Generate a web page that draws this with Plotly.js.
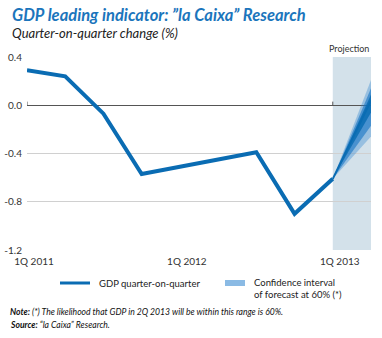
<!DOCTYPE html>
<html><head><meta charset="utf-8">
<script src="https://cdn.plot.ly/plotly-3.0.1.min.js"></script>
<style>html,body{margin:0;padding:0;background:#fff;}#c{width:382px;height:338px;}</style>
</head><body><div id="c"></div>
<script>
// Data
const quarters = ["1Q 2011","2Q 2011","3Q 2011","4Q 2011","1Q 2012","2Q 2012","3Q 2012","4Q 2012","1Q 2013","2Q 2013"];
const gdp = [0.29, 0.24, -0.07, -0.57, -0.51, -0.45, -0.39, -0.90, -0.61];
const fanQuarters = ["1Q 2013","2Q 2013"];
const fanOuterLow = [-0.61, -0.26];
const fanOuterHigh = [-0.61, 0.21];
const fanMidLow = [-0.61, -0.17];
const fanMidHigh = [-0.61, 0.14];
const fanInnerLow = [-0.61, -0.06];
const fanInnerHigh = [-0.61, 0.09];
const fanCenter = [-0.61, 0.04];
const xTickLabels = ["1Q 2011","1Q 2012","1Q 2013"];
const yTicks = [0.4, 0.0, -0.4, -0.8, -1.2];
const yTickLabels = ["0.4","0.0","-0.4","-0.8","-1.2"];

const idx = q => quarters.indexOf(q);
const xs = gdp.map((_, i) => i);
const fx = fanQuarters.map(idx);

const blue = '#0a6cb3';
const traces = [];
function band(lo, hi, color){
  traces.push({x: fx, y: lo, mode:'lines', line:{width:0}, hoverinfo:'skip', showlegend:false});
  traces.push({x: fx, y: hi, mode:'lines', line:{width:0}, fill:'tonexty', fillcolor: color, hoverinfo:'skip', showlegend:false});
}
band(fanOuterLow, fanOuterHigh, 'rgba(40,130,205,0.35)');
band(fanMidLow, fanMidHigh, 'rgba(20,115,195,0.6)');
band(fanInnerLow, fanInnerHigh, 'rgba(10,108,179,0.85)');
traces.push({x: fx, y: fanCenter, mode:'lines', line:{color: blue, width:2}, hoverinfo:'skip', showlegend:false});
traces.push({x: xs, y: gdp, mode:'lines', line:{color: blue, width:4, shape:'linear'}, showlegend:false});

const projStart = idx("1Q 2013");
const projEnd = idx("2Q 2013");

const layout = {
  width: 382, height: 338,
  margin: {l: 27, r: 11, t: 57, b: 88},
  paper_bgcolor: '#fff', plot_bgcolor: '#fff',
  font: {family: 'Lato, "Open Sans", sans-serif', color: '#333', size: 10},
  showlegend: false,
  xaxis: {
    range: [0, projEnd], showgrid: false, zeroline: false, showline: false,
    tickmode: 'array', tickvals: xTickLabels.map(idx), ticktext: xTickLabels,
    ticks: '', ticklabelshift: 7, ticklabelstandoff: 4,
    tickfont: {size: 10, color: '#333'}, fixedrange: true
  },
  yaxis: {
    range: [-1.2, 0.4], tickmode: 'array', tickvals: yTicks, ticktext: yTickLabels,
    showgrid: true, gridcolor: '#d0d0d0', gridwidth: 1,
    zeroline: true, zerolinecolor: '#555', zerolinewidth: 1,
    showline: false, ticks: '', ticklabelstandoff: 4,
    tickfont: {size: 10, color: '#333'}, fixedrange: true
  },
  shapes: [
    {type:'rect', xref:'x', yref:'paper', x0: projStart, x1: projEnd, y0: 0, y1: 1,
     fillcolor:'#d3e1ea', line:{width:0}, layer:'below'},
    {type:'line', xref:'x', yref:'y', x0: 0, x1: 0, y0: 0, y1: 0.03, line:{color:'#555', width:1}},
    {type:'line', xref:'x', yref:'y', x0: projStart, x1: projStart, y0: 0, y1: 0.03, line:{color:'#555', width:1}},
    // legend swatches
    {type:'line', xref:'paper', yref:'paper', x0: (60-27)/344, x1: (90-27)/344, y0: -(283-250)/193, y1: -(283-250)/193,
     line:{color: blue, width:3}},
    {type:'rect', xref:'paper', yref:'paper', x0: (225-27)/344, x1: (245-27)/344, y0: -(286-250)/193, y1: -(280-250)/193,
     fillcolor:'rgba(60,140,210,0.6)', line:{width:0}}
  ],
  annotations: [
    {xref:'paper', yref:'paper', x: -17/344, y: 1+ (57-15)/193, xanchor:'left', yanchor:'middle', showarrow:false,
     text:'<b><i>GDP leading indicator: ”la Caixa” Research</i></b>', font:{size:16.5, color:'#1b75bc'}},
    {xref:'paper', yref:'paper', x: -17/344, y: 1+ (57-33)/193, xanchor:'left', yanchor:'middle', showarrow:false,
     text:'<i>Quarter-on-quarter change (%)</i>', font:{size:13, color:'#222'}},
    {xref:'paper', yref:'paper', x: 1, y: 1, xanchor:'right', yanchor:'bottom', yshift: 1, showarrow:false,
     text:'Projection', font:{size:9, color:'#333'}},
    {xref:'paper', yref:'paper', x: (97-27)/344, y: -(283-250)/193, xanchor:'left', yanchor:'middle', showarrow:false,
     text:'GDP quarter-on-quarter', font:{size:9.5, color:'#222'}},
    {xref:'paper', yref:'paper', x: (252-27)/344, y: -(283-250)/193, xanchor:'left', yanchor:'top', yshift: 8, showarrow:false, align:'left',
     text:'Confidence interval<br>of forecast at 60% (*)', font:{size:9.5, color:'#222'}},
    {xref:'paper', yref:'paper', x: -19/344, y: -(312-250)/193, xanchor:'left', yanchor:'middle', showarrow:false,
     text:'<b><i>Note:</i></b><i> (*) The likelihood that GDP in 2Q 2013 will be within this range is 60%.</i>', font:{size:8.6, color:'#111'}},
    {xref:'paper', yref:'paper', x: -19/344, y: -(325-250)/193, xanchor:'left', yanchor:'middle', showarrow:false,
     text:'<b><i>Source:</i></b><i> “la Caixa” Research.</i>', font:{size:8.6, color:'#111'}}
  ]
};
Plotly.newPlot('c', traces, layout, {displayModeBar:false, staticPlot:true});
</script></body></html>
